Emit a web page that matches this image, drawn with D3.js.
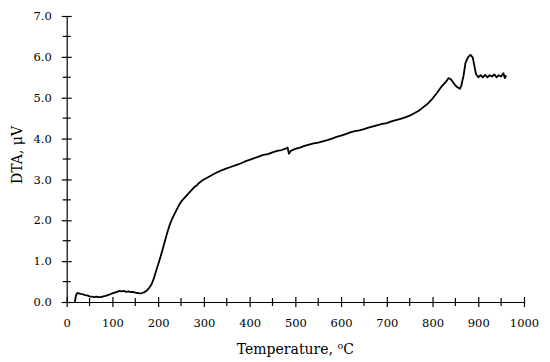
<!DOCTYPE html>
<html>
<head>
<meta charset="utf-8">
<script src="https://cdn.jsdelivr.net/npm/d3@7"></script>
<style>
  body { margin: 0; background: #fff; }
  text { font-family: "DejaVu Serif", serif; fill: #000; }
</style>
</head>
<body>
<svg id="chart" width="550" height="362"></svg>
<script>
// temperature (oC) and DTA signal (uV)
const temperature = [18, 20, 23, 27, 30, 35, 40, 45, 50, 55, 60, 65, 70, 75, 80, 85, 90, 95, 100,
    105, 110, 115, 120, 125, 130, 135, 140, 145, 150, 155, 160, 165, 170, 175, 180, 185, 190, 195,
    200, 205, 210, 215, 220, 225, 230, 235, 240, 245, 250, 255, 260, 265, 270, 275, 280, 285, 290,
    295, 300, 310, 320, 330, 340, 350, 360, 370, 380, 390, 400, 410, 420, 430, 440, 450, 460, 470,
    480, 483, 486, 490, 500, 510, 520, 530, 540, 550, 560, 570, 580, 590, 600, 610, 620, 630, 640,
    650, 660, 670, 680, 690, 700, 710, 720, 730, 740, 750, 760, 770, 780, 790, 800, 810, 820, 830,
    835, 840, 845, 850, 855, 860, 863, 868, 872, 878, 883, 888, 892, 895, 900, 905, 910, 915, 920,
    925, 930, 935, 940, 945, 950, 955, 958, 961];
const dta = [0.0, 0.15, 0.22, 0.21, 0.2, 0.19, 0.17, 0.16, 0.14, 0.13, 0.12, 0.13, 0.12, 0.12, 0.14,
    0.15, 0.17, 0.19, 0.21, 0.23, 0.25, 0.27, 0.26, 0.27, 0.25, 0.26, 0.24, 0.25, 0.23, 0.22, 0.21,
    0.22, 0.24, 0.28, 0.34, 0.42, 0.56, 0.74, 0.92, 1.1, 1.3, 1.5, 1.7, 1.88, 2.02, 2.14, 2.25, 2.36,
    2.45, 2.52, 2.58, 2.64, 2.7, 2.76, 2.82, 2.86, 2.92, 2.96, 3.0, 3.06, 3.12, 3.18, 3.23, 3.27, 3.31,
    3.35, 3.39, 3.44, 3.48, 3.52, 3.56, 3.6, 3.62, 3.66, 3.7, 3.72, 3.76, 3.78, 3.63, 3.7, 3.75, 3.78,
    3.82, 3.85, 3.88, 3.9, 3.93, 3.96, 4.0, 4.04, 4.07, 4.11, 4.15, 4.18, 4.2, 4.23, 4.27, 4.3, 4.33,
    4.36, 4.38, 4.42, 4.45, 4.48, 4.52, 4.56, 4.62, 4.68, 4.77, 4.86, 4.98, 5.12, 5.28, 5.4, 5.48,
    5.45, 5.38, 5.3, 5.25, 5.22, 5.3, 5.55, 5.85, 6.0, 6.05, 5.98, 5.75, 5.58, 5.5, 5.55, 5.5, 5.56,
    5.5, 5.55, 5.52, 5.57, 5.5, 5.55, 5.52, 5.6, 5.48, 5.55];

const xTicks = d3.range(0, 1001, 100);
const xMinorTicks = d3.range(50, 1000, 100);
const yTicks = d3.range(0, 7.01, 1);
const yMinorTicks = d3.range(0.5, 7, 1);

function makeChart(selector) {
    let svg = d3.select(selector);
    let x = d3.scaleLinear().domain([0, 1000]).range([66.7, 524]);
    let y = d3.scaleLinear().domain([0, 7]).range([302, 16]);

    // x axis: ticks cross the line on both sides
    let xAxis = svg.append('g').attr('transform', `translate(0,${y(0)})`);
    xAxis.call(d3.axisBottom(x).tickValues(xTicks).tickSize(5).tickSizeOuter(0).tickFormat(d3.format('d')));
    xAxis.selectAll('.tick line').attr('y1', -5);
    xAxis.selectAll('.tick text').attr('y', 17).attr('dy', '0.71em').style('font-size', '11.5px');
    xAxis.selectAll('.minor').data(xMinorTicks).enter().append('line')
        .attr('class', 'minor')
        .attr('x1', d => x(d)).attr('x2', d => x(d))
        .attr('y1', -4).attr('y2', 4);

    // y axis
    let yAxis = svg.append('g').attr('transform', `translate(${x(0)},0)`);
    yAxis.call(d3.axisLeft(y).tickValues(yTicks).tickSize(5).tickSizeOuter(0).tickFormat(d3.format('.1f')));
    yAxis.selectAll('.tick line').attr('x1', 5);
    yAxis.selectAll('.tick text').attr('x', -15).style('font-size', '11.5px');
    yAxis.selectAll('.minor').data(yMinorTicks).enter().append('line')
        .attr('class', 'minor')
        .attr('y1', d => y(d)).attr('y2', d => y(d))
        .attr('x1', -4).attr('x2', 4);

    svg.selectAll('.domain, .tick line, .minor').attr('stroke', 'black').attr('stroke-width', 1.2);
    svg.selectAll('.tick text').attr('font-family', null).attr('font-size', null);

    // the DTA curve
    let points = temperature.map((t, i) => [t, dta[i]]);
    svg.append('path')
        .datum(points)
        .attr('fill', 'none')
        .attr('stroke', 'black')
        .attr('stroke-width', 1.8)
        .attr('stroke-linejoin', 'round')
        .attr('d', d3.line().x(d => x(d[0])).y(d => y(d[1])));

    // axis titles
    let xTitle = svg.append('text')
        .attr('x', (x(0) + x(1000)) / 2)
        .attr('y', 354)
        .attr('text-anchor', 'middle')
        .style('font-size', '14px')
        .text('Temperature, ');
    xTitle.append('tspan').attr('dy', -5).style('font-size', '9.5px').text('o');
    xTitle.append('tspan').attr('dy', 5).text('C');

    svg.append('text')
        .attr('transform', 'translate(22,155) rotate(-90)')
        .attr('text-anchor', 'middle')
        .style('font-size', '14px')
        .text('DTA, μV');
}

makeChart('#chart');
</script>
</body>
</html>
